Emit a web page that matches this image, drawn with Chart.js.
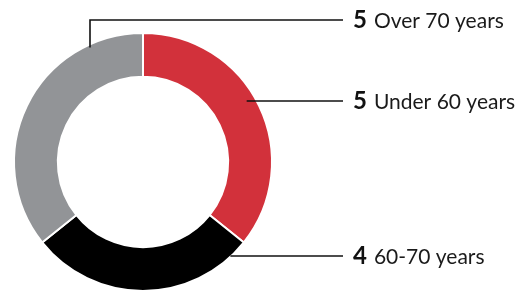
<!DOCTYPE html>
<html>
<head>
<meta charset="utf-8">
<script src="https://cdn.jsdelivr.net/npm/chart.js@4/dist/chart.umd.min.js"></script>
<style>
html,body{margin:0;padding:0;background:#fff;}
#wrap{width:521px;height:297px;position:relative;}
</style>
</head>
<body>
<div id="wrap"><canvas id="c" width="521" height="297"></canvas></div>
<script>
const categories = ["Under 60 years", "60-70 years", "Over 70 years"];
const values = [5, 4, 5];
const colors = ["#d2313b", "#000000", "#929497"];

const leaderPlugin = {
  id: 'leaders',
  afterDatasetsDraw(chart) {
    const ctx = chart.ctx;
    const meta = chart.getDatasetMeta(0);
    const arc0 = meta.data[0];
    const cx = arc0.x, cy = arc0.y, R = arc0.outerRadius;
    const lineEndX = 343, textX = 353;
    const specs = [
      {i: 0, y: cy - 61, startX: cx + Math.sqrt(R*R - 61*61) - 10, elbow: false},
      {i: 1, y: cy + 94, startX: cx + Math.sqrt(R*R - 94*94) - 1, elbow: false},
      {i: 2, y: 20, startX: cx - 53, elbow: true, startY: cy - Math.sqrt(R*R - 53*53) + 3}
    ];
    ctx.save();
    ctx.strokeStyle = '#111';
    ctx.lineWidth = 1.6;
    specs.forEach(s => {
      ctx.beginPath();
      if (s.elbow) {
        ctx.moveTo(s.startX, s.startY);
        ctx.lineTo(s.startX, s.y);
        ctx.lineTo(lineEndX, s.y);
      } else {
        ctx.moveTo(s.startX, s.y);
        ctx.lineTo(lineEndX, s.y);
      }
      ctx.stroke();
      ctx.textBaseline = 'alphabetic';
      ctx.textAlign = 'left';
      ctx.fillStyle = '#111';
      ctx.font = 'bold 24px Lato';
      const num = String(values[s.i]);
      ctx.fillText(num, textX, s.y + 7.5);
      const w = ctx.measureText(num).width;
      ctx.font = '21px Lato';
      ctx.fillStyle = '#1a1a1a';
      ctx.fillText(categories[s.i], textX + w + 7, s.y + 7.5);
    });
    ctx.restore();
  }
};

new Chart(document.getElementById('c'), {
  type: 'doughnut',
  data: {
    labels: categories,
    datasets: [{
      data: values,
      backgroundColor: colors,
      borderColor: '#ffffff',
      borderWidth: 2,
      hoverOffset: 0
    }]
  },
  options: {
    responsive: false,
    animation: false,
    cutout: '66%',
    layout: {padding: {left: 13, top: 31, right: 248, bottom: 4}},
    plugins: {legend: {display: false}, tooltip: {enabled: false}}
  },
  plugins: [leaderPlugin]
});
</script>
</body>
</html>
